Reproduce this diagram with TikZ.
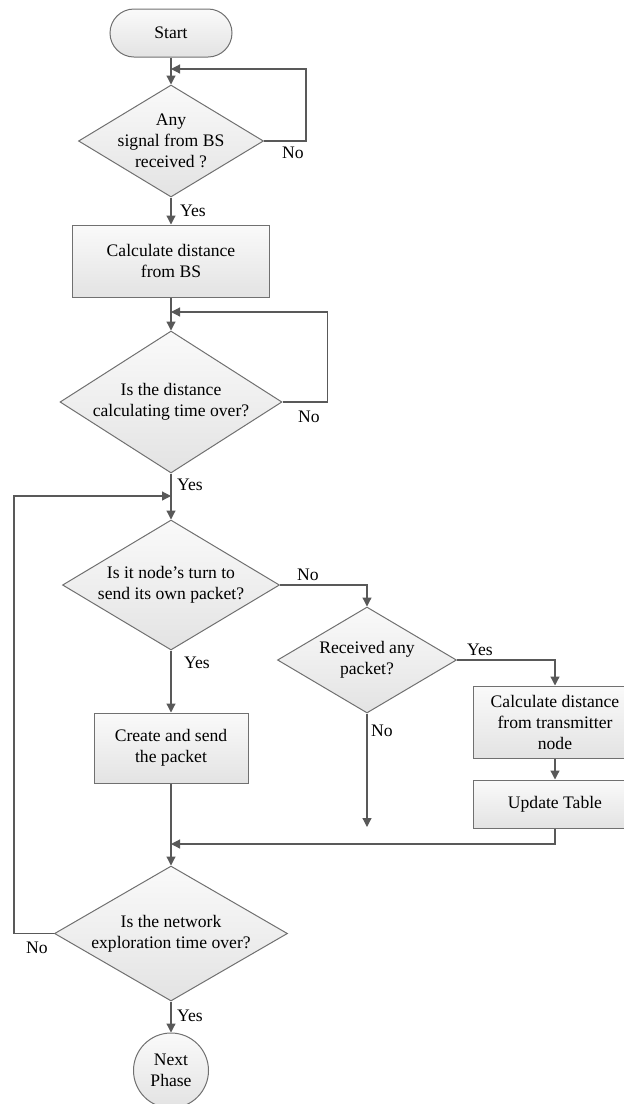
\documentclass[tikz,border=0pt]{standalone}
\usepackage{fontspec}
\setmainfont{Liberation Serif}
\usetikzlibrary{shapes.geometric,arrows.meta}
\definecolor{lineg}{HTML}{595959}
\definecolor{bordg}{HTML}{707070}
\begin{document}
\begin{tikzpicture}[x=1pt,y=-1pt,
  font=\fontsize{17.6}{21}\selectfont,
  base/.style={draw=bordg, line width=1pt, top color=white!98!black, bottom color=white!89!black, inner sep=0pt, align=center},
  proc/.style={base, rectangle},
  term/.style={base, rectangle, rounded corners=24pt, minimum width=122pt, minimum height=48pt},
  dec/.style={base, diamond, inner xsep=-50pt, inner ysep=-30pt},
  endc/.style={base, circle, minimum size=75pt},
  conn/.style={draw=lineg, line width=1.2pt, -{Triangle[length=9pt,width=9pt]}},
  lbl/.style={inner sep=0pt}
]
\useasboundingbox (0,0) rectangle (624,1104);
\clip (0,0) rectangle (624,1104);

% nodes
\node[term] (start) at (171,33) {Start};
\node[dec, minimum width=185pt, minimum height=112pt] (d1) at (171,141) {Any\\signal from BS\\received ?};
\node[proc, minimum width=197pt, minimum height=72pt] (b1) at (171,261) {Calculate distance\\from BS};
\node[dec, minimum width=222pt, minimum height=142pt] (d2) at (171,402) {Is the distance\\calculating time over?};
\node[dec, minimum width=217pt, minimum height=130pt] (d3) at (171,585) {Is it node's turn to\\send its own packet?};
\node[dec, minimum width=179pt, minimum height=106pt] (d4) at (367,660) {Received any\\packet?};
\node[proc, minimum width=164pt, minimum height=72pt] (b2) at (555,722) {Calculate distance\\from transmitter\\node};
\node[proc, minimum width=164pt, minimum height=48pt] (b3) at (555,804) {Update Table};
\node[proc, minimum width=154pt, minimum height=70pt] (b4) at (171,748) {Create and send\\the packet};
\node[dec, minimum width=233pt, minimum height=135pt] (d5) at (171,933.5) {Is the network\\exploration time over?};
\node[endc] (fin) at (171,1070.5) {Next\\Phase};

% merge points and free ends
\coordinate (m1) at (171,69);
\coordinate (m2) at (171,312);
\coordinate (m3) at (171,496);
\coordinate (m4) at (171,844);
\coordinate (e4) at (367,827);

% connectors
\draw[conn] (start) -- (d1);
\draw[conn] (d1.east) -- ++(42,0) |- (m1);
\draw[conn] (d1) -- (b1);
\draw[conn] (b1) -- (d2);
\draw[conn] (d2.east) -- ++(45,0) |- (m2);
\draw[conn] (d2) -- (d3);
\draw[conn] (d5.west) -- ++(-40,0) |- (m3);
\draw[conn] (d3.east) -| (d4.north);
\draw[conn] (d4.east) -| (b2.north);
\draw[conn] (b2) -- (b3);
\draw[conn] (b3.south) |- (m4);
\draw[conn] (d4.south) -- (e4);
\draw[conn] (d3) -- (b4);
\draw[conn] (b4) -- (d5);
\draw[conn] (d5) -- (fin);

% labels
\node[lbl] (no1) at (293,153) {No};
\node[lbl] (yes1) at (193,211) {Yes};
\node[lbl] (no2) at (309,417) {No};
\node[lbl] (yes2) at (190,485) {Yes};
\node[lbl] (no3) at (308,575) {No};
\node[lbl] (yes3) at (197,663) {Yes};
\node[lbl] (yes4) at (480,650) {Yes};
\node[lbl] (no4) at (382,731) {No};
\node[lbl] (no5) at (37,948) {No};
\node[lbl] (yes5) at (190,1016) {Yes};
\end{tikzpicture}
\end{document}
